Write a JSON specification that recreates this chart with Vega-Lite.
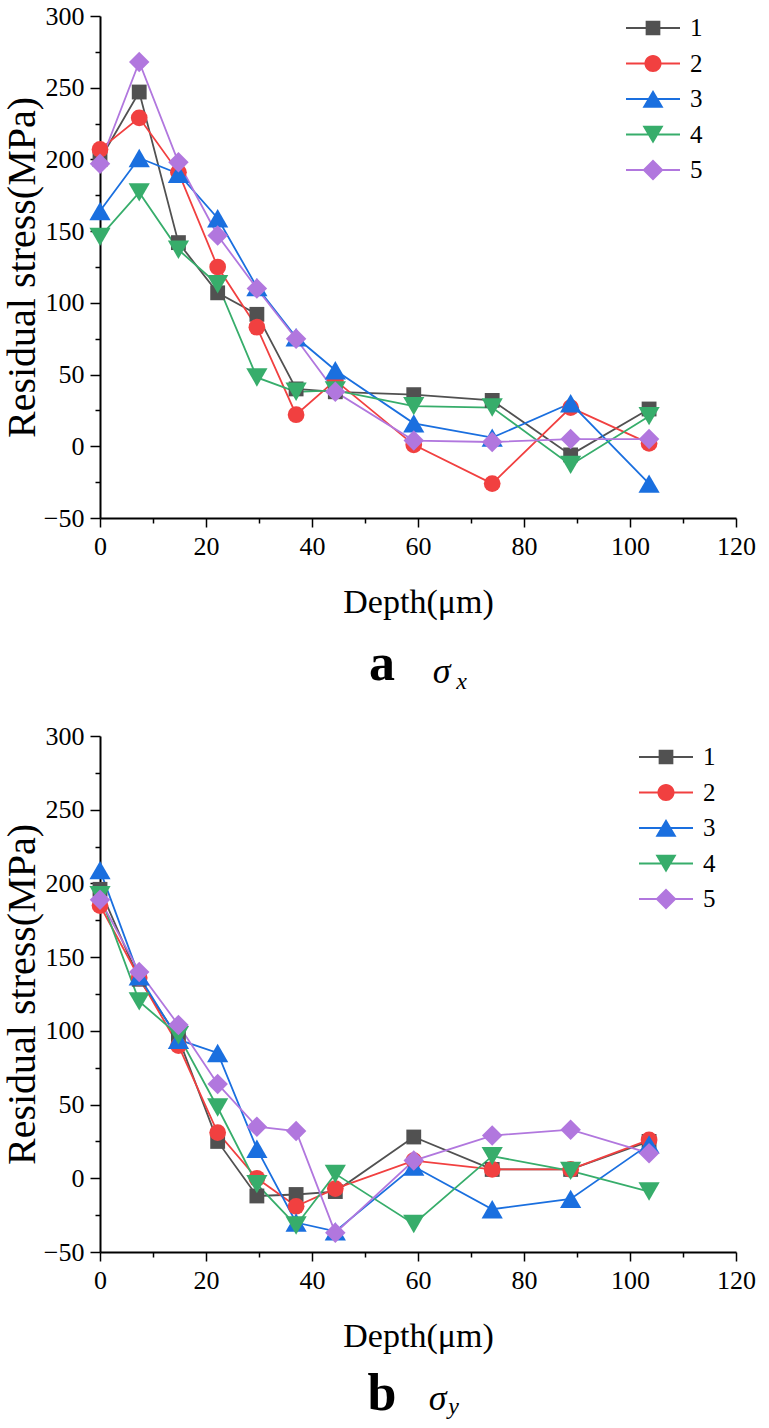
{
  "$schema": "https://vega.github.io/schema/vega-lite/v6.json",
  "padding": {"left": 2, "top": 3, "right": 5, "bottom": 5},
  "spacing": 30,
  "config": {
    "font": "Liberation Serif",
    "view": {"stroke": null},
    "title": {"font": "Liberation Serif"},
    "axis": {"labelFont": "Liberation Serif", "titleFont": "Liberation Serif", "labelColor": "black", "titleColor": "black", "domainColor": "black", "tickColor": "black", "domainWidth": 2, "tickWidth": 1.5, "grid": false, "titleFontWeight": "normal", "labelOverlap": false, "labelBound": false, "labelFlush": false},
    "legend": {"labelFont": "Liberation Serif", "labelColor": "black", "labelFontSize": 25, "symbolSize": 900, "padding": 0}
  },
  "datasets": {
    "sx": [
      {"depth": 0, "series": "1", "stress": 200}, {"depth": 7.4, "series": "1", "stress": 247}, {"depth": 14.8, "series": "1", "stress": 142}, {"depth": 22.2, "series": "1", "stress": 107}, {"depth": 29.6, "series": "1", "stress": 92}, {"depth": 37, "series": "1", "stress": 40}, {"depth": 44.4, "series": "1", "stress": 38}, {"depth": 59.2, "series": "1", "stress": 36}, {"depth": 74, "series": "1", "stress": 32}, {"depth": 88.8, "series": "1", "stress": -6}, {"depth": 103.6, "series": "1", "stress": 26},
      {"depth": 0, "series": "2", "stress": 207}, {"depth": 7.4, "series": "2", "stress": 229}, {"depth": 14.8, "series": "2", "stress": 191}, {"depth": 22.2, "series": "2", "stress": 125}, {"depth": 29.6, "series": "2", "stress": 83}, {"depth": 37, "series": "2", "stress": 22}, {"depth": 44.4, "series": "2", "stress": 46}, {"depth": 59.2, "series": "2", "stress": 1}, {"depth": 74, "series": "2", "stress": -26}, {"depth": 88.8, "series": "2", "stress": 27}, {"depth": 103.6, "series": "2", "stress": 2},
      {"depth": 0, "series": "3", "stress": 164}, {"depth": 7.4, "series": "3", "stress": 201}, {"depth": 14.8, "series": "3", "stress": 190}, {"depth": 22.2, "series": "3", "stress": 159}, {"depth": 29.6, "series": "3", "stress": 111}, {"depth": 37, "series": "3", "stress": 76}, {"depth": 44.4, "series": "3", "stress": 53}, {"depth": 59.2, "series": "3", "stress": 16}, {"depth": 74, "series": "3", "stress": 6}, {"depth": 88.8, "series": "3", "stress": 30}, {"depth": 103.6, "series": "3", "stress": -26},
      {"depth": 0, "series": "4", "stress": 146}, {"depth": 7.4, "series": "4", "stress": 177}, {"depth": 14.8, "series": "4", "stress": 137}, {"depth": 22.2, "series": "4", "stress": 113}, {"depth": 29.6, "series": "4", "stress": 48}, {"depth": 37, "series": "4", "stress": 38}, {"depth": 44.4, "series": "4", "stress": 39}, {"depth": 59.2, "series": "4", "stress": 28}, {"depth": 74, "series": "4", "stress": 27}, {"depth": 88.8, "series": "4", "stress": -13}, {"depth": 103.6, "series": "4", "stress": 21},
      {"depth": 0, "series": "5", "stress": 197}, {"depth": 7.4, "series": "5", "stress": 268}, {"depth": 14.8, "series": "5", "stress": 198}, {"depth": 22.2, "series": "5", "stress": 147}, {"depth": 29.6, "series": "5", "stress": 110}, {"depth": 37, "series": "5", "stress": 75}, {"depth": 44.4, "series": "5", "stress": 38}, {"depth": 59.2, "series": "5", "stress": 4}, {"depth": 74, "series": "5", "stress": 3}, {"depth": 88.8, "series": "5", "stress": 5}, {"depth": 103.6, "series": "5", "stress": 5}
    ],
    "sy": [
      {"depth": 0, "series": "1", "stress": 196}, {"depth": 7.4, "series": "1", "stress": 135}, {"depth": 14.8, "series": "1", "stress": 95}, {"depth": 22.2, "series": "1", "stress": 25}, {"depth": 29.6, "series": "1", "stress": -12}, {"depth": 37, "series": "1", "stress": -11}, {"depth": 44.4, "series": "1", "stress": -9}, {"depth": 59.2, "series": "1", "stress": 28}, {"depth": 74, "series": "1", "stress": 6}, {"depth": 88.8, "series": "1", "stress": 6}, {"depth": 103.6, "series": "1", "stress": 25},
      {"depth": 0, "series": "2", "stress": 185}, {"depth": 7.4, "series": "2", "stress": 136}, {"depth": 14.8, "series": "2", "stress": 90}, {"depth": 22.2, "series": "2", "stress": 31}, {"depth": 29.6, "series": "2", "stress": 0}, {"depth": 37, "series": "2", "stress": -19}, {"depth": 44.4, "series": "2", "stress": -7}, {"depth": 59.2, "series": "2", "stress": 12}, {"depth": 74, "series": "2", "stress": 6}, {"depth": 88.8, "series": "2", "stress": 6}, {"depth": 103.6, "series": "2", "stress": 26},
      {"depth": 0, "series": "3", "stress": 209}, {"depth": 7.4, "series": "3", "stress": 137}, {"depth": 14.8, "series": "3", "stress": 94}, {"depth": 22.2, "series": "3", "stress": 85}, {"depth": 29.6, "series": "3", "stress": 20}, {"depth": 37, "series": "3", "stress": -30}, {"depth": 44.4, "series": "3", "stress": -36}, {"depth": 59.2, "series": "3", "stress": 8}, {"depth": 74, "series": "3", "stress": -21}, {"depth": 88.8, "series": "3", "stress": -14}, {"depth": 103.6, "series": "3", "stress": 23},
      {"depth": 0, "series": "4", "stress": 192}, {"depth": 7.4, "series": "4", "stress": 120}, {"depth": 14.8, "series": "4", "stress": 97}, {"depth": 22.2, "series": "4", "stress": 48}, {"depth": 29.6, "series": "4", "stress": -4}, {"depth": 37, "series": "4", "stress": -32}, {"depth": 44.4, "series": "4", "stress": 3}, {"depth": 59.2, "series": "4", "stress": -31}, {"depth": 74, "series": "4", "stress": 15}, {"depth": 88.8, "series": "4", "stress": 5}, {"depth": 103.6, "series": "4", "stress": -9},
      {"depth": 0, "series": "5", "stress": 189}, {"depth": 7.4, "series": "5", "stress": 140}, {"depth": 14.8, "series": "5", "stress": 104}, {"depth": 22.2, "series": "5", "stress": 64}, {"depth": 29.6, "series": "5", "stress": 35}, {"depth": 37, "series": "5", "stress": 32}, {"depth": 44.4, "series": "5", "stress": -37}, {"depth": 59.2, "series": "5", "stress": 12}, {"depth": 74, "series": "5", "stress": 29}, {"depth": 88.8, "series": "5", "stress": 33}, {"depth": 103.6, "series": "5", "stress": 17}
    ]
  },
  "resolve": {
    "scale": {"color": "independent", "shape": "independent"},
    "legend": {"color": "independent", "shape": "independent"}
  },
  "vconcat": [
    {
      "width": 636,
      "height": 502,
      "data": {"name": "sx"},
      "title": {"text": "a", "orient": "bottom", "anchor": "middle", "dx": -36, "font": "Liberation Serif", "fontSize": 52, "fontWeight": "bold", "color": "black", "offset": -54},
      "resolve": {"axis": {"x": "independent", "y": "independent"}},
      "layer": [
        {
          "transform": [{"filter": "false"}],
          "mark": {"type": "point", "filled": true, "opacity": 1, "size": 900},
          "encoding": {
            "x": {"field": "depth", "type": "quantitative", "scale": {"domain": [0, 120], "nice": false}, "axis": {"orient": "bottom", "domain": false, "ticks": false, "labels": false, "title": "σ", "titleFont": "Liberation Serif", "titleFontSize": 36, "titleFontStyle": "italic", "titleAlign": "center", "titleBaseline": "alphabetic", "titleX": 341, "titleY": 164}},
            "y": {"field": "stress", "type": "quantitative", "scale": {"domain": [-50, 300], "nice": false}, "axis": {"orient": "right", "domain": false, "ticks": false, "labels": false, "title": "x", "titleFont": "Liberation Serif", "titleAngle": 0, "titleFontSize": 24, "titleFontStyle": "italic", "titleAlign": "center", "titleBaseline": "alphabetic", "titleX": -275, "titleY": 672}},
            "color": {"field": "series", "type": "nominal", "scale": {"domain": ["1", "2", "3", "4", "5"], "range": ["#515151", "#f14040", "#1a6fdf", "#37ad6b", "#b177de"]},
              "legend": {"orient": "none", "legendX": 538, "legendY": -3, "title": null, "labelFont": "Liberation Serif", "labelFontSize": 25, "symbolSize": 900, "symbolStrokeWidth": 0, "symbolOpacity": 1, "rowPadding": 7.5, "labelOffset": 22}},
            "shape": {"field": "series", "type": "nominal", "scale": {"domain": ["1", "2", "3", "4", "5"], "range": ["M-1.8,-0.06H1.8V0.06H-1.8ZM-0.49,-0.49H0.49V0.49H-0.49Z", "M-1.8,-0.06H1.8V0.06H-1.8ZM0.57,0A0.57,0.57,0,1,1,-0.57,0A0.57,0.57,0,1,1,0.57,0Z", "M-1.8,-0.06H1.8V0.06H-1.8ZM0,-0.6L0.7,0.58L-0.7,0.58Z", "M-1.8,-0.06H1.8V0.06H-1.8ZM0,0.6L-0.7,-0.58L0.7,-0.58Z", "M-1.8,-0.06H1.8V0.06H-1.8ZM-0.7,0L0,-0.7L0.7,0L0,0.7Z"]},
              "legend": {"orient": "none", "legendX": 538, "legendY": -3, "title": null, "labelFont": "Liberation Serif", "labelFontSize": 25, "symbolSize": 900, "symbolStrokeWidth": 0, "symbolOpacity": 1, "rowPadding": 7.5, "labelOffset": 22}}
          }
        },
        {
          "mark": {"type": "line", "strokeWidth": 1.8},
          "encoding": {
            "x": {"field": "depth", "type": "quantitative",
              "axis": {"orient": "bottom", "title": "Depth(μm)", "labelFont": "Liberation Serif", "titleFont": "Liberation Serif", "values": [0, 10, 20, 30, 40, 50, 60, 70, 80, 90, 100, 110, 120], "labelExpr": "datum.value % 20 === 0 ? datum.label : ''", "tickSize": {"condition": {"test": "datum.value % 20 === 0", "value": 9}, "value": 5}, "labelFontSize": 26, "labelPadding": 6, "titleFontSize": 34, "titlePadding": 26}},
            "y": {"field": "stress", "type": "quantitative",
              "axis": {"orient": "left", "title": "Residual stress(MPa)", "labelFont": "Liberation Serif", "titleFont": "Liberation Serif", "values": [-50, -25, 0, 25, 50, 75, 100, 125, 150, 175, 200, 225, 250, 275, 300], "labelExpr": "datum.value % 50 === 0 ? datum.label : ''", "tickSize": {"condition": {"test": "datum.value % 50 === 0", "value": 10}, "value": 5}, "labelFontSize": 26, "labelPadding": 6, "titleFontSize": 40, "titlePadding": 1}},
            "color": {"field": "series", "type": "nominal"}
          }
        },
        {"transform": [{"filter": "datum.series === '1'"}], "mark": {"type": "point", "filled": true, "opacity": 1, "shape": "square", "size": 220},
          "encoding": {"x": {"field": "depth", "type": "quantitative", "axis": null}, "y": {"field": "stress", "type": "quantitative", "axis": null}, "color": {"field": "series", "type": "nominal"}}},
        {"transform": [{"filter": "datum.series === '2'"}], "mark": {"type": "point", "filled": true, "opacity": 1, "shape": "circle", "size": 280},
          "encoding": {"x": {"field": "depth", "type": "quantitative", "axis": null}, "y": {"field": "stress", "type": "quantitative", "axis": null}, "color": {"field": "series", "type": "nominal"}}},
        {"transform": [{"filter": "datum.series === '3'"}], "mark": {"type": "point", "filled": true, "opacity": 1, "shape": "triangle-up", "size": 450},
          "encoding": {"x": {"field": "depth", "type": "quantitative", "axis": null}, "y": {"field": "stress", "type": "quantitative", "axis": null}, "color": {"field": "series", "type": "nominal"}}},
        {"transform": [{"filter": "datum.series === '4'"}], "mark": {"type": "point", "filled": true, "opacity": 1, "shape": "triangle-down", "size": 450},
          "encoding": {"x": {"field": "depth", "type": "quantitative", "axis": null}, "y": {"field": "stress", "type": "quantitative", "axis": null}, "color": {"field": "series", "type": "nominal"}}},
        {"transform": [{"filter": "datum.series === '5'"}], "mark": {"type": "point", "filled": true, "opacity": 1, "shape": "diamond", "size": 420},
          "encoding": {"x": {"field": "depth", "type": "quantitative", "axis": null}, "y": {"field": "stress", "type": "quantitative", "axis": null}, "color": {"field": "series", "type": "nominal"}}}
      ]
    },
    {
      "width": 636,
      "height": 516,
      "data": {"name": "sy"},
      "title": {"text": "b", "orient": "bottom", "anchor": "middle", "dx": -36, "font": "Liberation Serif", "fontSize": 52, "fontWeight": "bold", "color": "black", "offset": -49},
      "resolve": {"axis": {"x": "independent", "y": "independent"}},
      "layer": [
        {
          "transform": [{"filter": "false"}],
          "mark": {"type": "point", "filled": true, "opacity": 1, "size": 900},
          "encoding": {
            "x": {"field": "depth", "type": "quantitative", "scale": {"domain": [0, 120], "nice": false}, "axis": {"orient": "bottom", "domain": false, "ticks": false, "labels": false, "title": "σ", "titleFont": "Liberation Serif", "titleFontSize": 36, "titleFontStyle": "italic", "titleAlign": "center", "titleBaseline": "alphabetic", "titleX": 337, "titleY": 157}},
            "y": {"field": "stress", "type": "quantitative", "scale": {"domain": [-50, 300], "nice": false}, "axis": {"orient": "right", "domain": false, "ticks": false, "labels": false, "title": "y", "titleFont": "Liberation Serif", "titleAngle": 0, "titleFontSize": 24, "titleFontStyle": "italic", "titleAlign": "center", "titleBaseline": "alphabetic", "titleX": -283, "titleY": 677}},
            "color": {"field": "series", "type": "nominal", "scale": {"domain": ["1", "2", "3", "4", "5"], "range": ["#515151", "#f14040", "#1a6fdf", "#37ad6b", "#b177de"]},
              "legend": {"orient": "none", "legendX": 551, "legendY": 6, "title": null, "labelFont": "Liberation Serif", "labelFontSize": 25, "symbolSize": 900, "symbolStrokeWidth": 0, "symbolOpacity": 1, "rowPadding": 7.5, "labelOffset": 22}},
            "shape": {"field": "series", "type": "nominal", "scale": {"domain": ["1", "2", "3", "4", "5"], "range": ["M-1.8,-0.06H1.8V0.06H-1.8ZM-0.49,-0.49H0.49V0.49H-0.49Z", "M-1.8,-0.06H1.8V0.06H-1.8ZM0.57,0A0.57,0.57,0,1,1,-0.57,0A0.57,0.57,0,1,1,0.57,0Z", "M-1.8,-0.06H1.8V0.06H-1.8ZM0,-0.6L0.7,0.58L-0.7,0.58Z", "M-1.8,-0.06H1.8V0.06H-1.8ZM0,0.6L-0.7,-0.58L0.7,-0.58Z", "M-1.8,-0.06H1.8V0.06H-1.8ZM-0.7,0L0,-0.7L0.7,0L0,0.7Z"]},
              "legend": {"orient": "none", "legendX": 551, "legendY": 6, "title": null, "labelFont": "Liberation Serif", "labelFontSize": 25, "symbolSize": 900, "symbolStrokeWidth": 0, "symbolOpacity": 1, "rowPadding": 7.5, "labelOffset": 22}}
          }
        },
        {
          "mark": {"type": "line", "strokeWidth": 1.8},
          "encoding": {
            "x": {"field": "depth", "type": "quantitative",
              "axis": {"orient": "bottom", "title": "Depth(μm)", "labelFont": "Liberation Serif", "titleFont": "Liberation Serif", "values": [0, 10, 20, 30, 40, 50, 60, 70, 80, 90, 100, 110, 120], "labelExpr": "datum.value % 20 === 0 ? datum.label : ''", "tickSize": {"condition": {"test": "datum.value % 20 === 0", "value": 9}, "value": 5}, "labelFontSize": 26, "labelPadding": 6, "titleFontSize": 34, "titlePadding": 26}},
            "y": {"field": "stress", "type": "quantitative",
              "axis": {"orient": "left", "title": "Residual stress(MPa)", "labelFont": "Liberation Serif", "titleFont": "Liberation Serif", "values": [-50, -25, 0, 25, 50, 75, 100, 125, 150, 175, 200, 225, 250, 275, 300], "labelExpr": "datum.value % 50 === 0 ? datum.label : ''", "tickSize": {"condition": {"test": "datum.value % 50 === 0", "value": 10}, "value": 5}, "labelFontSize": 26, "labelPadding": 6, "titleFontSize": 40, "titlePadding": 1}},
            "color": {"field": "series", "type": "nominal"}
          }
        },
        {"transform": [{"filter": "datum.series === '1'"}], "mark": {"type": "point", "filled": true, "opacity": 1, "shape": "square", "size": 220},
          "encoding": {"x": {"field": "depth", "type": "quantitative", "axis": null}, "y": {"field": "stress", "type": "quantitative", "axis": null}, "color": {"field": "series", "type": "nominal"}}},
        {"transform": [{"filter": "datum.series === '2'"}], "mark": {"type": "point", "filled": true, "opacity": 1, "shape": "circle", "size": 280},
          "encoding": {"x": {"field": "depth", "type": "quantitative", "axis": null}, "y": {"field": "stress", "type": "quantitative", "axis": null}, "color": {"field": "series", "type": "nominal"}}},
        {"transform": [{"filter": "datum.series === '3'"}], "mark": {"type": "point", "filled": true, "opacity": 1, "shape": "triangle-up", "size": 450},
          "encoding": {"x": {"field": "depth", "type": "quantitative", "axis": null}, "y": {"field": "stress", "type": "quantitative", "axis": null}, "color": {"field": "series", "type": "nominal"}}},
        {"transform": [{"filter": "datum.series === '4'"}], "mark": {"type": "point", "filled": true, "opacity": 1, "shape": "triangle-down", "size": 450},
          "encoding": {"x": {"field": "depth", "type": "quantitative", "axis": null}, "y": {"field": "stress", "type": "quantitative", "axis": null}, "color": {"field": "series", "type": "nominal"}}},
        {"transform": [{"filter": "datum.series === '5'"}], "mark": {"type": "point", "filled": true, "opacity": 1, "shape": "diamond", "size": 420},
          "encoding": {"x": {"field": "depth", "type": "quantitative", "axis": null}, "y": {"field": "stress", "type": "quantitative", "axis": null}, "color": {"field": "series", "type": "nominal"}}}
      ]
    }
  ]
}
